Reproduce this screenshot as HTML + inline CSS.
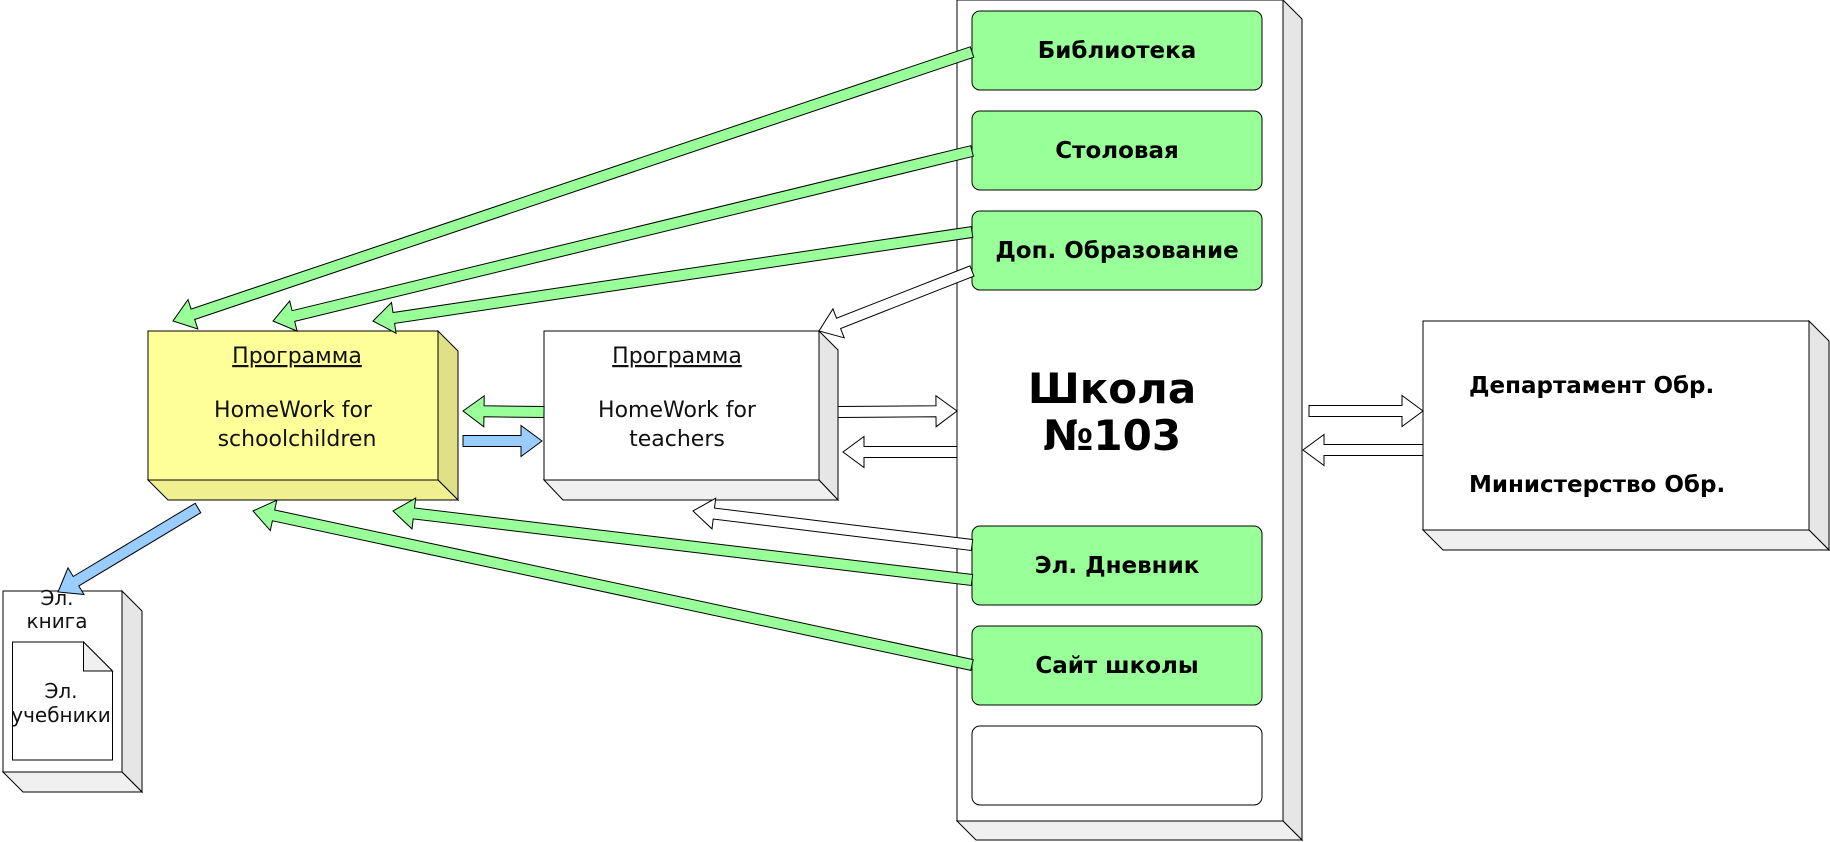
<!DOCTYPE html>
<html><head><meta charset="utf-8"><style>
html,body{margin:0;padding:0;background:#fff;width:1830px;height:842px;overflow:hidden}
svg{display:block}
text{font-family:"DejaVu Sans","Liberation Sans",sans-serif}
</style></head><body>
<svg id="s" width="1830" height="842" viewBox="0 0 1830 842" xmlns="http://www.w3.org/2000/svg">
<!-- School panel -->
<polygon points="1283,0 1302,19 1302,840 1283,821" fill="#e6e6e6" stroke="#000"/>
<polygon points="957,821 1283,821 1302,840 976,840" fill="#f0f0f0" stroke="#000"/>
<rect x="957" y="0" width="326" height="821" fill="#fff" stroke="#000"/>
<g stroke="#000" stroke-width="1">
<rect x="972" y="11" width="290" height="79" rx="8" fill="#99ff99"/>
<rect x="972" y="111" width="290" height="79" rx="8" fill="#99ff99"/>
<rect x="972" y="211" width="290" height="79" rx="8" fill="#99ff99"/>
<rect x="972" y="526" width="290" height="79" rx="8" fill="#99ff99"/>
<rect x="972" y="626" width="290" height="79" rx="8" fill="#99ff99"/>
<rect x="972" y="726" width="290" height="79" rx="8" fill="#fff"/>
</g>
<g font-weight="bold" font-size="23" text-anchor="middle" fill="#000">
<text x="1117" y="58">Библиотека</text>
<text x="1117" y="158">Столовая</text>
<text x="1117" y="258">Доп. Образование</text>
<text x="1117" y="573">Эл. Дневник</text>
<text x="1117" y="673">Сайт школы</text>
<text x="1112" y="403" font-size="42">Школа</text>
<text x="1112" y="450" font-size="42">№103</text>
</g>
<!-- Yellow box -->
<polygon points="438,331 458,351 458,500 438,480" fill="#e0e088" stroke="#000"/>
<polygon points="148,480 438,480 458,500 168,500" fill="#f0f090" stroke="#000"/>
<rect x="148" y="331" width="290" height="149" fill="#ffff99" stroke="#000"/>
<g font-size="22" text-anchor="middle" fill="#111">
<text x="297" y="363" text-decoration="underline">Программа</text>
<text x="293" y="417">HomeWork for</text>
<text x="297" y="446">schoolchildren</text>
</g>
<!-- Teacher box -->
<polygon points="819,331 838,350 838,500 819,480" fill="#e6e6e6" stroke="#000"/>
<polygon points="544,480 819,480 838,500 563,500" fill="#f0f0f0" stroke="#000"/>
<rect x="544" y="331" width="275" height="149" fill="#fff" stroke="#000"/>
<g font-size="22" text-anchor="middle" fill="#111">
<text x="677" y="363" text-decoration="underline">Программа</text>
<text x="677" y="417">HomeWork for</text>
<text x="677" y="446">teachers</text>
</g>
<!-- Department box -->
<polygon points="1809,321 1829,341 1829,550 1809,530" fill="#e6e6e6" stroke="#000"/>
<polygon points="1423,530 1809,530 1829,550 1443,550" fill="#f0f0f0" stroke="#000"/>
<rect x="1423" y="321" width="386" height="209" fill="#fff" stroke="#000"/>
<g font-size="23" font-weight="bold" fill="#000">
<text x="1469" y="393">Департамент Обр.</text>
<text x="1469" y="492">Министерство Обр.</text>
</g>
<!-- Book -->
<polygon points="122,591 142,611 142,792 122,772" fill="#e6e6e6" stroke="#000"/>
<polygon points="3,772 122,772 142,792 23,792" fill="#f0f0f0" stroke="#000"/>
<rect x="3" y="591" width="119" height="181" fill="#fff" stroke="#000"/>
<polygon points="12.5,642 83.5,642 112.5,671 112.5,760 12.5,760" fill="#fff" stroke="#000"/>
<polygon points="83.5,642 112.5,671 83.5,671" fill="#f0f0f0" stroke="#000"/>
<g font-size="20" text-anchor="middle" fill="#111">
<text x="57" y="605">Эл.</text>
<text x="57" y="628">книга</text>
<text x="61" y="698">Эл.</text>
<text x="61" y="722">учебники</text>
</g>
<g id="arrows" stroke="#000" stroke-width="1"></g>
</svg>
<script>
var A=[
 [972,52,173,321,'#99ff99'],
 [972,151,273,321,'#99ff99'],
 [972,232,373,321,'#99ff99'],
 [972,271,819,331,'#fff'],
 [544,412,463,411,'#99ff99'],
 [463,441,542,441,'#99ccff'],
 [198,508,58,592,'#99ccff'],
 [838,412,957,411,'#fff'],
 [957,452,843,452,'#fff'],
 [972,545,693,511,'#fff'],
 [972,580,393,511,'#99ff99'],
 [972,665,253,511,'#99ff99'],
 [1309,411,1423,411,'#fff'],
 [1423,450,1303,450,'#fff']
];
var g=document.getElementById('arrows'),w=5.5,h=15.5,L=21;
A.forEach(function(a){
 var tx=a[0],ty=a[1],px=a[2],py=a[3];
 var dx=px-tx,dy=py-ty,d=Math.sqrt(dx*dx+dy*dy),ux=dx/d,uy=dy/d,nx=-uy,ny=ux;
 var bx=px-ux*L,by=py-uy*L;
 var p=[[tx+nx*w,ty+ny*w],[bx+nx*w,by+ny*w],[bx+nx*h,by+ny*h],[px,py],[bx-nx*h,by-ny*h],[bx-nx*w,by-ny*w],[tx-nx*w,ty-ny*w]];
 var e=document.createElementNS('http://www.w3.org/2000/svg','polygon');
 e.setAttribute('points',p.map(function(q){return q[0].toFixed(1)+','+q[1].toFixed(1)}).join(' '));
 e.setAttribute('fill',a[4]);
 g.appendChild(e);
});
</script>
</body></html>
